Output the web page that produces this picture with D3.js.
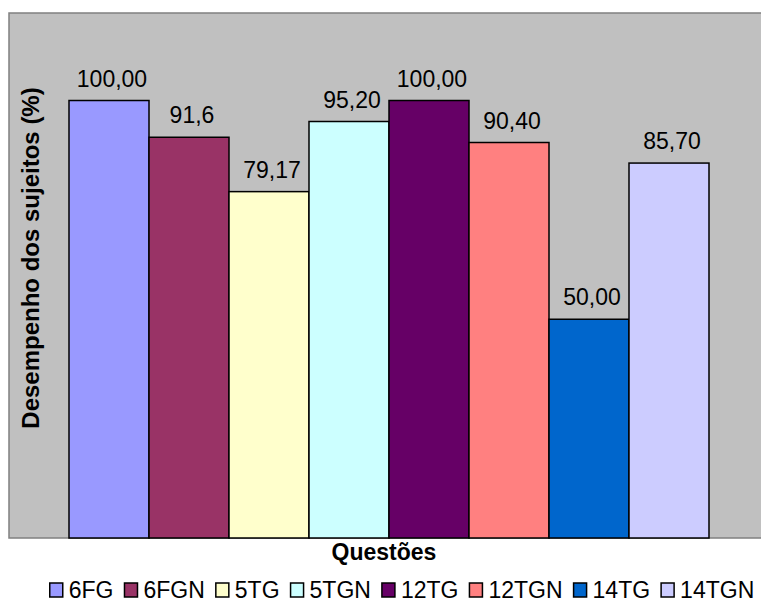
<!DOCTYPE html>
<html lang="pt">
<head>
<meta charset="utf-8">
<title>Desempenho dos sujeitos</title>
<script src="https://cdn.jsdelivr.net/npm/d3@7"></script>
<style>
  body { margin: 0; background: #fff; }
  text { font-family: "Liberation Sans", Arial, sans-serif; }
</style>
</head>
<body>
<div id="chart"></div>
<script>
// data
var questoes = ["6FG", "6FGN", "5TG", "5TGN", "12TG", "12TGN", "14TG", "14TGN"];
var valores = [100.00, 91.6, 79.17, 95.20, 100.00, 90.40, 50.00, 85.70];
var rotulos = ["100,00", "91,6", "79,17", "95,20", "100,00", "90,40", "50,00", "85,70"];
var cores = ["#9999FF", "#993366", "#FFFFCC", "#CCFFFF", "#660066", "#FF8080", "#0066CC", "#CCCCFF"];

var W = 761, H = 604;
// plot area (right side runs past the window, as in the reference)
var plot = {left: 9, top: 13, right: 769, bottom: 538};

var svg = d3.select("#chart").append("svg")
    .attr("width", W)
    .attr("height", H);

// grey plot area
svg.append("rect")
    .attr("x", plot.left)
    .attr("y", plot.top)
    .attr("width", plot.right - plot.left)
    .attr("height", plot.bottom - plot.top)
    .attr("fill", "#C0C0C0")
    .attr("stroke", "#808080")
    .attr("stroke-width", 1.5);

var x = d3.scaleBand()
    .domain(questoes)
    .range([69, 709])
    .padding(0);

var y = d3.scaleLinear()
    .domain([0, 120])
    .range([plot.bottom, plot.top]);

var color = d3.scaleOrdinal().domain(questoes).range(cores);

var data = questoes.map(function (q, i) {
  return {q: q, v: valores[i], label: rotulos[i]};
});

// bars
svg.append("g").selectAll("rect")
  .data(data)
  .enter()
  .append("rect")
    .attr("x", function (d) { return x(d.q); })
    .attr("y", function (d) { return y(d.v); })
    .attr("width", x.bandwidth())
    .attr("height", function (d) { return y(0) - y(d.v); })
    .attr("fill", function (d) { return color(d.q); })
    .attr("stroke", "#000")
    .attr("stroke-width", 1.5);

// value labels
svg.append("g").selectAll("text")
  .data(data)
  .enter()
  .append("text")
    .attr("x", function (d) { return x(d.q) + x.bandwidth() / 2 + 3; })
    .attr("y", function (d) { return y(d.v) - 14; })
    .attr("text-anchor", "middle")
    .style("font-size", "23px")
    .attr("fill", "#000")
    .text(function (d) { return d.label; });

// axis titles
svg.append("text")
    .attr("x", 384)
    .attr("y", 560)
    .attr("text-anchor", "middle")
    .style("font-size", "23px")
    .style("font-weight", "bold")
    .text("Questões");

svg.append("text")
    .attr("transform", "translate(39,258) rotate(-90)")
    .attr("text-anchor", "middle")
    .style("font-size", "24px")
    .style("font-weight", "bold")
    .text("Desempenho dos sujeitos (%)");

// legend, laid out from the text widths and centred
var legend = svg.append("g");
var pos = 0;
questoes.forEach(function (q) {
  var item = legend.append("g").attr("transform", "translate(" + pos + ",0)");
  item.append("rect")
      .attr("x", 0)
      .attr("y", 583)
      .attr("width", 13)
      .attr("height", 14)
      .attr("fill", color(q))
      .attr("stroke", "#000")
      .attr("stroke-width", 1.5);
  var t = item.append("text")
      .attr("x", 19)
      .attr("y", 598)
      .style("font-size", "23px")
      .text(q);
  pos += 19 + t.node().getComputedTextLength() + 11;
});
pos -= 11;
legend.attr("transform", "translate(" + (402 - pos / 2) + ",0)");
</script>
</body>
</html>
